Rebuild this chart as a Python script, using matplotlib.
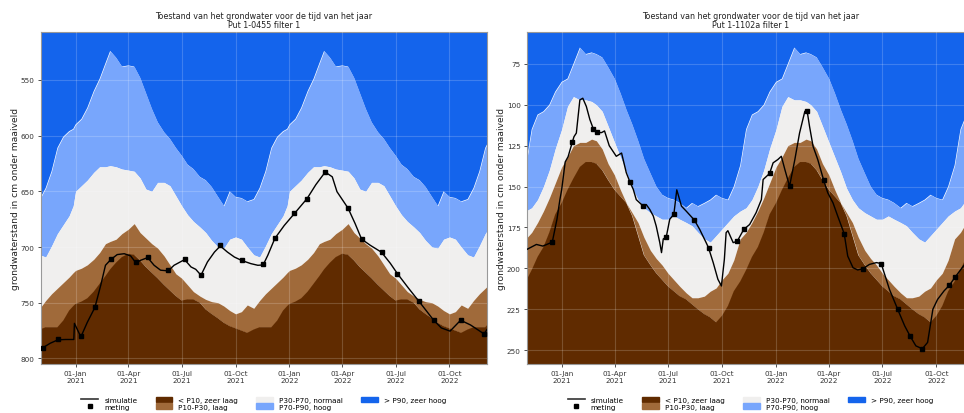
import numpy as np
import pandas as pd
import matplotlib
matplotlib.use("Agg")
import matplotlib.pyplot as plt
import matplotlib.dates as mdates
from matplotlib.lines import Line2D
from matplotlib.patches import Patch

# ---------------- data: left well (Put 1-0455 filter 1) ----------------
# seasonal percentile bands (cm below surface) per day of the year
md_L = ["01-01", "01-11", "01-21", "02-01", "02-11", "02-21", "03-01", "03-11", "03-21",
        "04-01", "04-11", "04-21", "05-01", "05-11", "05-21", "06-01", "06-11", "06-21",
        "07-01", "07-11", "07-21", "08-01", "08-11", "08-21", "09-01", "09-11", "09-21",
        "10-01", "10-11", "10-21", "11-01", "11-11", "11-21", "12-01", "12-11", "12-21", "12-28"]
p90_L = [590, 585, 575, 560, 549, 535, 524, 530, 538, 537, 538, 548, 562, 576, 588, 597, 603, 611,
         618, 626, 630, 637, 640, 646, 655, 663, 650, 655, 656, 659, 657, 647, 632, 611, 601, 596, 594]
p70_L = [650, 645, 640, 633, 628, 628, 627, 628, 630, 631, 632, 638, 648, 650, 642, 642, 645, 654,
         663, 671, 677, 682, 687, 694, 700, 701, 693, 691, 693, 700, 707, 709, 699, 688, 680, 672, 663]
p30_L = [721, 719, 716, 711, 705, 697, 695, 693, 688, 684, 679, 687, 692, 697, 701, 708, 716, 724,
         728, 734, 740, 744, 747, 749, 750, 753, 757, 760, 758, 752, 755, 748, 742, 737, 732, 727, 723]
p10_L = [751, 749, 746, 740, 733, 726, 720, 714, 709, 706, 707, 712, 718, 723, 728, 734, 739, 744,
         748, 747, 747, 750, 756, 760, 764, 768, 771, 773, 775, 777, 774, 772, 772, 772, 766, 757, 753]

sim_L_dates = ["2020-11-02", "2020-11-19", "2020-12-02", "2020-12-15", "2020-12-29", "2020-12-30",
               "2021-01-10", "2021-01-21", "2021-02-03", "2021-02-13", "2021-02-21", "2021-03-02",
               "2021-03-13", "2021-03-25", "2021-04-05", "2021-04-14", "2021-04-22", "2021-05-04",
               "2021-05-15", "2021-05-26", "2021-06-08", "2021-06-18", "2021-07-06", "2021-07-17",
               "2021-07-25", "2021-08-03", "2021-08-14", "2021-08-26", "2021-09-05", "2021-09-17",
               "2021-09-29", "2021-10-12", "2021-10-27", "2021-11-08", "2021-11-17", "2021-11-25",
               "2021-12-07", "2021-12-23", "2022-01-09", "2022-01-31", "2022-02-15", "2022-03-03",
               "2022-03-15", "2022-03-23", "2022-04-11", "2022-04-23", "2022-05-04", "2022-05-19",
               "2022-06-07", "2022-06-22", "2022-07-04", "2022-07-23", "2022-08-10", "2022-09-04",
               "2022-09-17", "2022-10-02", "2022-10-20", "2022-11-06", "2022-11-29", "2022-12-04"]
sim_L = [791.7, 786.3, 783.3, 783.0, 783.0, 768.5, 780.7, 767.6, 754.2, 734.2, 716.4, 711.3,
         706.8, 706.0, 708.0, 714.3, 711.9, 709.5, 716.4, 720.8, 721.4, 716.4, 711.3, 717.9,
         720.0, 725.3, 713.4, 704.5, 699.1, 704.5, 709.0, 712.2, 714.9, 716.4, 716.1, 707.4,
         692.3, 680.7, 670.2, 656.5, 644.0, 632.7, 637.0, 650.3, 665.2, 679.0, 692.9, 698.5,
         704.7, 714.6, 723.8, 736.9, 748.8, 765.7, 772.6, 775.5, 765.7, 770.0, 778.0, 774.0]

met_L_dates = ["2020-11-07", "2020-12-02", "2021-01-10", "2021-02-03", "2021-03-02", "2021-04-14",
               "2021-05-04", "2021-06-08", "2021-07-06", "2021-08-03", "2021-09-05", "2021-10-12",
               "2021-11-17", "2021-12-07", "2022-01-09", "2022-01-31", "2022-03-03", "2022-04-11",
               "2022-05-04", "2022-06-07", "2022-07-04", "2022-08-10", "2022-09-04", "2022-10-20",
               "2022-11-29"]
met_L = [790.2, 782.7, 780.0, 753.6, 710.7, 713.7, 708.9, 720.8, 710.7, 724.7, 698.5, 711.6,
         715.5, 691.6, 669.6, 656.5, 632.7, 665.2, 692.9, 704.7, 723.8, 748.8, 765.7, 765.7, 778.0]

# ---------------- data: right well (Put 1-1102a filter 1) ----------------
md_R = md_L[:-1]
p90_R = [86, 84, 75, 65, 69, 68, 69, 71, 77, 84, 93, 103, 112, 122, 133, 142, 150, 155,
         157, 158, 160, 163, 160, 162, 160, 158, 155, 157, 158, 150, 137, 115, 106, 104, 100, 92]
p70_R = [115, 101, 95, 97, 97, 98, 100, 104, 113, 123, 132, 141, 151, 158, 163, 166, 168, 170,
         170, 168, 170, 172, 174, 178, 182, 184, 180, 176, 172, 168, 165, 163, 158, 150, 140, 127]
p30_R = [138, 132, 125, 123, 123, 121, 122, 127, 136, 143, 152, 160, 166, 172, 181, 189, 194, 198,
         203, 207, 211, 215, 218, 218, 217, 214, 212, 207, 203, 195, 182, 178, 172, 165, 157, 148]
p10_R = [160, 152, 145, 138, 135, 135, 136, 140, 146, 152, 156, 160, 168, 180, 192, 198, 203, 207,
         211, 214, 217, 219, 222, 225, 228, 230, 233, 229, 223, 214, 208, 201, 193, 187, 178, 167]

sim_R_dates = ["2020-11-03", "2020-11-19", "2020-11-30", "2020-12-16", "2020-12-24", "2020-12-29",
               "2021-01-01", "2021-01-07", "2021-01-12", "2021-01-19", "2021-01-22", "2021-01-26",
               "2021-02-01", "2021-02-06", "2021-02-12", "2021-02-18", "2021-02-24", "2021-03-02",
               "2021-03-10", "2021-03-15", "2021-03-23", "2021-04-04", "2021-04-13", "2021-04-21",
               "2021-04-27", "2021-05-03", "2021-05-08", "2021-05-14", "2021-05-20", "2021-05-25",
               "2021-05-31", "2021-06-06", "2021-06-11", "2021-06-17", "2021-06-20", "2021-06-23",
               "2021-06-28", "2021-07-04", "2021-07-11", "2021-07-16", "2021-07-24", "2021-08-01",
               "2021-08-15", "2021-08-24", "2021-09-04", "2021-09-08", "2021-09-16", "2021-09-24",
               "2021-09-30", "2021-10-05", "2021-10-08", "2021-10-11", "2021-10-20", "2021-10-27",
               "2021-11-07", "2021-11-17", "2021-11-28", "2021-12-07", "2021-12-10", "2021-12-21",
               "2021-12-27", "2022-01-04", "2022-01-10", "2022-01-16", "2022-01-24", "2022-02-02",
               "2022-02-10", "2022-02-19", "2022-02-23", "2022-02-27", "2022-03-05", "2022-03-13",
               "2022-03-23", "2022-03-30", "2022-04-08", "2022-04-16", "2022-04-27", "2022-05-03",
               "2022-05-12", "2022-05-20", "2022-05-29", "2022-06-09", "2022-06-21", "2022-06-29",
               "2022-07-13", "2022-07-27", "2022-08-08", "2022-08-17", "2022-08-27", "2022-09-07",
               "2022-09-16", "2022-09-25", "2022-10-03", "2022-10-14", "2022-10-23", "2022-11-02",
               "2022-11-16", "2022-12-04"]
sim_R = [188.4, 185.4, 186.4, 184.0, 170.0, 158.0, 152.0, 135.0, 131.7, 123.0, 119.5, 117.3,
         97.0, 96.0, 101.0, 109.0, 114.8, 117.0, 117.0, 116.0, 125.0, 131.5, 129.5, 141.5,
         147.0, 151.8, 158.0, 160.0, 162.0, 161.0, 164.0, 168.0, 174.2, 184.2, 190.4, 182.0,
         181.0, 170.0, 167.0, 152.0, 162.0, 165.0, 170.5, 176.2, 184.3, 187.4, 196.5, 206.7,
         210.8, 194.5, 178.2, 177.0, 184.3, 183.4, 176.2, 173.2, 166.0, 158.0, 145.7, 142.0,
         135.5, 133.5, 131.5, 139.6, 149.8, 133.5, 117.3, 104.0, 104.0, 113.2, 125.4, 133.5,
         146.0, 153.8, 160.0, 168.1, 178.8, 192.5, 199.6, 201.0, 200.2, 197.6, 196.5, 197.1,
         212.8, 225.0, 235.2, 241.3, 247.4, 249.2, 245.3, 225.0, 219.0, 213.8, 210.4, 205.3,
         198.6, 192.0]

met_R_dates = ["2020-12-16", "2021-01-19", "2021-02-23", "2021-03-02", "2021-04-27", "2021-05-19",
               "2021-06-28", "2021-07-11", "2021-08-15", "2021-09-08", "2021-10-27", "2021-11-07",
               "2021-12-21", "2022-01-24", "2022-02-22", "2022-03-23", "2022-04-26", "2022-05-29",
               "2022-06-29", "2022-07-27", "2022-08-17", "2022-09-06", "2022-10-23", "2022-11-02"]
met_R = [184.0, 123.0, 114.8, 116.9, 147.0, 162.0, 181.0, 167.0, 170.5, 187.4, 183.4, 176.2,
         142.0, 149.8, 104.0, 146.0, 178.8, 200.2, 197.1, 225.0, 241.3, 249.2, 210.4, 205.3]

# ---------------- styling ----------------
C_VL = "#602b00"   # < P10
C_L = "#a06a3a"    # P10-P30
C_N = "#f0efee"    # P30-P70
C_H = "#78a6fc"    # P70-P90
C_VH = "#1464ec"   # > P90

labels = ["simulatie", "meting", "< P10, zeer laag", "P10-P30, laag",
          "P30-P70, normaal", "P70-P90, hoog", "> P90, zeer hoog"]


def expand(md, vals, years=(2020, 2021, 2022, 2023)):
    d = pd.to_datetime([f"{y}-{m}" for y in years for m in md])
    v = np.tile(np.asarray(vals, float), len(years))
    return d, v


def draw(ax, md, p10, p30, p70, p90, sd, sv, mdts, mv, ylim, yticks, title):
    d, v10 = expand(md, p10)
    _, v30 = expand(md, p30)
    _, v70 = expand(md, p70)
    _, v90 = expand(md, p90)
    ax.fill_between(d, -1000, v90, color=C_VH, lw=0, zorder=1)
    ax.fill_between(d, v90, v70, color=C_H, lw=0, zorder=1)
    ax.fill_between(d, v70, v30, color=C_N, lw=0, zorder=1)
    ax.fill_between(d, v30, v10, color=C_L, lw=0, zorder=1)
    ax.fill_between(d, v10, 3000, color=C_VL, lw=0, zorder=1)
    ax.plot(pd.to_datetime(sd), sv, color="black", lw=1.0, zorder=4)
    ax.plot(pd.to_datetime(mdts), mv, ls="none", marker="s", ms=3.2, color="black", zorder=5)
    ax.set_xlim(pd.Timestamp("2020-11-03"), pd.Timestamp("2022-12-04"))
    ax.set_ylim(*ylim)
    ax.set_yticks(yticks)
    ax.xaxis.set_major_locator(mdates.MonthLocator(bymonth=[1, 4, 7, 10]))
    ax.xaxis.set_major_formatter(mdates.DateFormatter("%d-%b\n%Y"))
    ax.grid(True, color="white", alpha=0.18, lw=0.8, zorder=2)
    ax.set_axisbelow(False)
    for gl in ax.get_xgridlines() + ax.get_ygridlines():
        gl.set_zorder(2)
    ax.tick_params(labelsize=5.2, colors="#333333", length=2.5, width=0.6, pad=2)
    for s in ax.spines.values():
        s.set_color("#999999")
        s.set_linewidth(0.8)
    ax.set_title(title, fontsize=5.8, color="#222222", pad=3.5, linespacing=1.0)
    ax.set_ylabel("grondwaterstand in cm onder maaiveld", fontsize=6.6, color="#222222", labelpad=0.5)
    handles = [Line2D([], [], color="#333333", lw=1.2),
               Line2D([], [], ls="none", marker="s", ms=3, color="black"),
               Patch(color=C_VL), Patch(color=C_L), Patch(color=C_N), Patch(color=C_H), Patch(color=C_VH)]
    ax.legend(handles, labels, loc="upper center", bbox_to_anchor=(0.5, -0.085), ncol=4,
              frameon=False, fontsize=5.2, labelspacing=0.05, columnspacing=2.5,
              handlelength=2.35, handleheight=0.85, handletextpad=0.83, borderpad=0.1)


fig = plt.figure(figsize=(9.64, 4.14), dpi=100)
axL = fig.add_axes([41 / 964, 49 / 414, 446 / 964, 332 / 414])
axR = fig.add_axes([527 / 964, 49 / 414, 447 / 964, 332 / 414])

draw(axL, md_L, p10_L, p30_L, p70_L, p90_L, sim_L_dates, sim_L, met_L_dates, met_L,
     (805, 507), [550, 600, 650, 700, 750, 800],
     "Toestand van het grondwater voor de tijd van het jaar\nPut 1-0455 filter 1")
draw(axR, md_R, p10_R, p30_R, p70_R, p90_R, sim_R_dates, sim_R, met_R_dates, met_R,
     (258.5, 55.5), [75, 100, 125, 150, 175, 200, 225, 250],
     "Toestand van het grondwater voor de tijd van het jaar\nPut 1-1102a filter 1")

fig.savefig("out.png", dpi=100)
